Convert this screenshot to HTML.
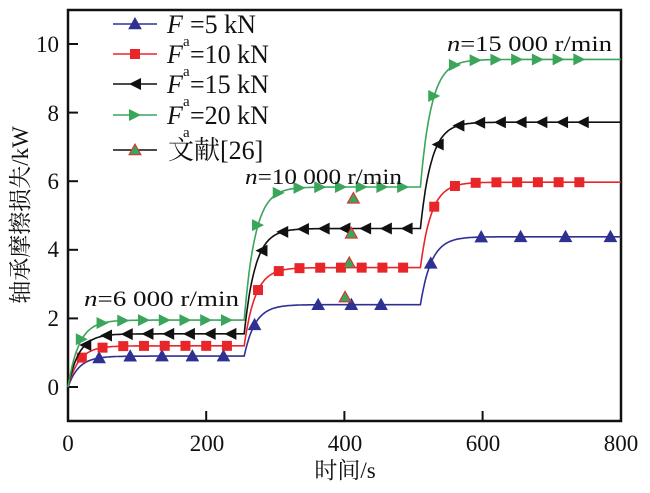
<!DOCTYPE html>
<html><head><meta charset="utf-8"><style>
body{margin:0;background:#fff;width:650px;height:488px;overflow:hidden}
text{font-family:"Liberation Serif","Noto Serif CJK SC",serif;fill:#111}
</style></head><body>
<svg id="s" width="650" height="488" xmlns="http://www.w3.org/2000/svg">
<rect x="68" y="10" width="553" height="411" fill="none" stroke="#111" stroke-width="2.5"/>
<g id="ax" stroke="#111" stroke-width="2"></g>
<g id="plot"></g>
<g font-size="23" text-anchor="end">
<text x="59" y="52">10</text><text x="59" y="121">8</text><text x="59" y="189">6</text><text x="59" y="257">4</text><text x="59" y="326">2</text><text x="59" y="395">0</text>
</g>
<g font-size="23" text-anchor="middle">
<text x="68" y="451">0</text><text x="207" y="451">200</text><text x="345" y="451">400</text><text x="483" y="451">600</text><text x="621" y="451">800</text>
<text x="345" y="478">时间/s</text>
</g>
<text transform="translate(28,215) rotate(-90)" font-size="23" text-anchor="middle">轴承摩擦损失/kW</text>
<g font-size="22">
<text x="84" y="306" textLength="155" lengthAdjust="spacingAndGlyphs"><tspan font-style="italic">n</tspan>=6 000 r/min</text>
<text x="245" y="184" textLength="157" lengthAdjust="spacingAndGlyphs"><tspan font-style="italic">n</tspan>=10 000 r/min</text>
<text x="447" y="51" textLength="165" lengthAdjust="spacingAndGlyphs"><tspan font-style="italic">n</tspan>=15 000 r/min</text>
</g>
<g id="leg" font-size="26"></g>
</svg>
<script>
const X=t=>68+t*0.691, Y=v=>387-v*34.3;
const ns="http://www.w3.org/2000/svg";
function el(p,n,a){const e=document.createElementNS(ns,n);for(const k in a)e.setAttribute(k,a[k]);document.getElementById(p).appendChild(e);return e;}
for(let v=0;v<=10;v+=2)el('ax','line',{x1:68,x2:78,y1:Y(v),y2:Y(v)});
for(let t=200;t<800;t+=200)el('ax','line',{x1:X(t),x2:X(t),y1:421,y2:411});
function marker(p,type,x,y,col,stroke){
 let s=6;
 if(type=='tri')el(p,'polygon',{points:`${x},${y-s} ${x-s},${y+s*0.8} ${x+s},${y+s*0.8}`,fill:col,stroke:stroke||col,'stroke-width':1});
 else if(type=='sq')el(p,'rect',{x:x-5,y:y-5,width:10,height:10,fill:col});
 else if(type=='left')el(p,'polygon',{points:`${x-s},${y} ${x+s},${y-s} ${x+s},${y+s}`,fill:col});
 else if(type=='right')el(p,'polygon',{points:`${x+s},${y} ${x-s},${y-s} ${x-s},${y+s}`,fill:col});
}
const S=[
 {c:'#2e3192',L:[0.9,2.4,4.38],m:'tri',st:[45,90,136,180,225,270,362,410,453,525,598,655,720,785]},
 {c:'#e8262a',L:[1.2,3.48,5.97],m:'sq',st:[],off:20},
 {c:'#111',L:[1.55,4.62,7.72],m:'left',st:[],off:25},
 {c:'#3aa55b',L:[1.95,5.83,9.55],m:'right',st:[],off:20}
];
function val(s,t){
 const ts=[0,255,510];let v=0;
 for(let i=0;i<3;i++){if(t>=ts[i]){const prev=i?s.L[i-1]:0;v=prev+(s.L[i]-prev)*(1-Math.exp(-(t-ts[i])/16));}}
 return v;
}
for(let k=0;k<4;k++){
 const s=S[k];let d='';
 for(let t=0;t<=800;t+=1)d+=(t?'L':'M')+X(t).toFixed(1)+','+Y(val(s,t)).toFixed(1);
 el('plot','path',{d:d,fill:'none',stroke:s.c,'stroke-width':1.6});
 let st=s.st;
 if(!st.length){st=[];
  for(let seg=0;seg<3;seg++){const b=[0,255,510][seg];for(let t=b+s.off;t<b+250&&t<=795;t+=30)st.push(t);}
 }
 for(const t of st)if(t<=800)marker('plot',s.m,X(t),Y(val(s,t)),s.c);
}
for(const [t,v] of [[401,2.62],[407,3.62],[410,4.48],[413,5.5]])marker('plot','tri',X(t),Y(v),'#3aa55b','#e8262a');
const rows=[[24,'tri','#2e3192','=5 kN'],[54,'sq','#e8262a','=10 kN'],[84,'left','#111','=15 kN'],[115,'right','#3aa55b','=20 kN']];
for(const [y,m,c,txt] of rows){
 el('leg','line',{x1:113,x2:157,y1:y,y2:y,stroke:c,'stroke-width':1.6});
 marker('leg',m,135,y,c);
 const f=el('leg','text',{x:167,y:y+9,'font-style':'italic'});f.textContent='F';
 const t=el('leg','text',{x:190,y:y+9});t.textContent=txt;
 const a=el('leg','text',{x:183,y:y+22,'font-size':15});a.textContent='a';
}
el('leg','line',{x1:113,x2:157,y1:150,y2:150,stroke:'#111','stroke-width':1.6});
marker('leg','tri',135,150,'#3aa55b','#e8262a');
const r=el('leg','text',{x:168,y:159});r.textContent='文献[26]';
</script>
</body></html>
